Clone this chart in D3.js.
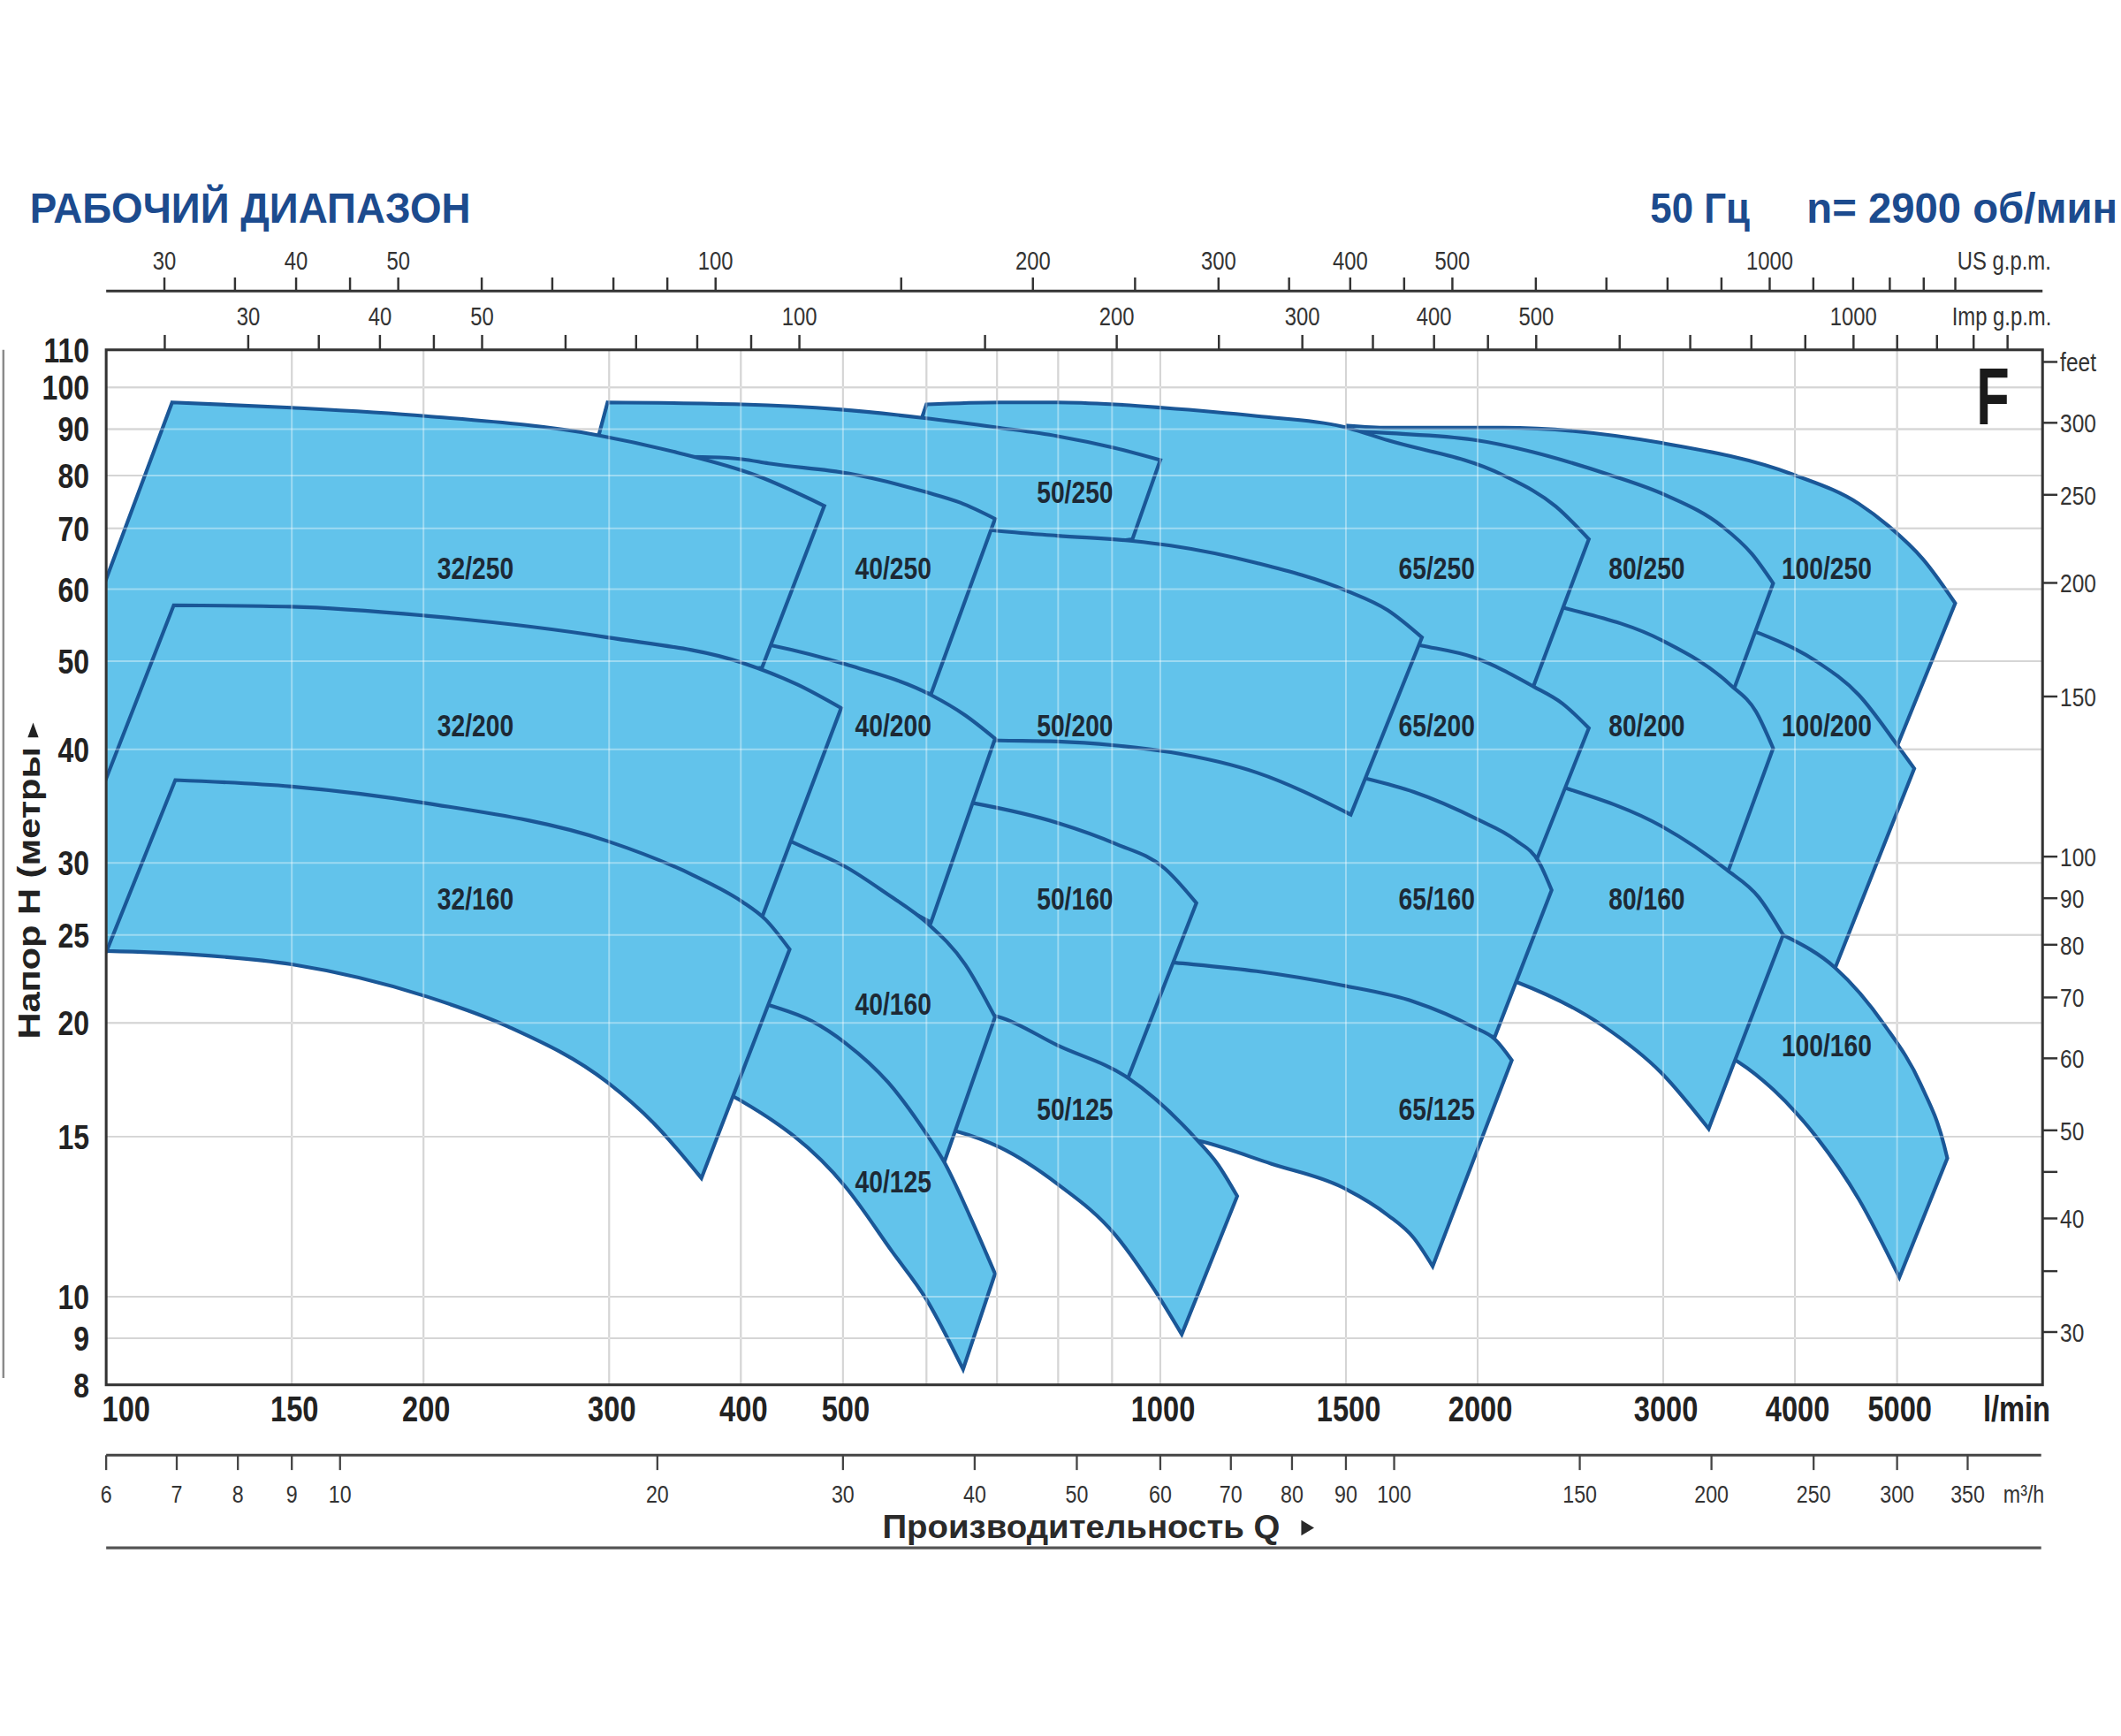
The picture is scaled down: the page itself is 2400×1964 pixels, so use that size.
<!DOCTYPE html>
<html><head><meta charset="utf-8">
<script src="https://cdn.jsdelivr.net/npm/d3@7/dist/d3.min.js"></script>
<style>html,body{margin:0;padding:0;background:#fff}</style>
</head><body>
<svg id="chart" width="2400" height="1964" viewBox="0 0 1568 1283"></svg>
<script>
// ---------------- DATA (flow Q in l/min, head H in m) ----------------
const headLabels = [110,100,90,80,70,60,50,40,30,25,20,15,10,9,8];
const headGrid   = [100,90,80,70,60,50,40,30,25,20,15,10,9];
const flowLabels = [100,150,200,300,400,500,1000,1500,2000,3000,4000,5000];
const flowGrid   = [150,200,300,400,500,600,700,800,900,1000,1500,2000,3000,4000,5000];
const usTicks  = [30,35,40,45,50,60,70,80,90,100,150,200,250,300,350,400,450,500,600,700,800,900,1000,1100,1200,1300,1400,1500];
const impTicks = [25,30,35,40,45,50,60,70,80,90,100,150,200,250,300,350,400,450,500,600,700,800,900,1000,1100,1200,1300,1400];
const gpmLabels = [30,40,50,100,200,300,400,500,1000];
const m3hTicks = [6,7,8,9,10,20,30,40,50,60,70,80,90,100,150,200,250,300,350];
const feetTicks = [350,300,250,200,150,100,90,80,70,60,50,45,40,35,30];
const feetLabels = ["feet","300","250","200","150","100","90","80","70","60","50","","40","","30"];

// pump models in drawing order
const models = ["100/250","100/200","100/160","80/250","80/200","80/160",
  "65/250","65/200","65/160","65/125","50/250","50/200","50/160","50/125",
  "40/250","40/200","40/160","40/125","32/250","32/200","32/160"];

// upper curve (max impeller), left -> right : [Q, H]
const upper = [
 [[1505,90.8],[1643,90.3],[2114,90.3],[2989,86.9],[3998,80.1],[4599,74.5],[4908,70.4],[5293,64.7],[5677,57.9]],
 [[3188,56.5],[3709,53.6],[4189,50.0],[4599,45.9],[5004,40.4],[5191,38.1]],
 [[3303,26.6],[3588,25.9],[3921,24.9],[4368,23.0],[4864,19.9],[5268,17.1],[5539,14.7],[5580,14.2]],
 [[1514,89.6],[1643,89.1],[1981,87.6],[2673,80.1],[3018,76.1],[3409,70.4],[3641,65.6],[3814,60.9]],
 [[2108,59.2],[2434,57.1],[2992,52.7],[3473,47.1],[3674,44.0],[3814,40.1]],
 [[2046,38.2],[2434,36.2],[2992,32.9],[3443,29.5],[3696,27.5],[3898,25.0]],
 [[600,95.8],[704,96.3],[799,96.3],[905,95.8],[1004,95.0],[1235,93.0],[1487,90.6],[1643,87.5],[2114,80.1],[2372,74.0],[2550,68.1]],
 [[1478,54.0],[1771,52.0],[1981,50.5],[2259,46.9],[2408,44.9],[2550,42.2]],
 [[628,42.9],[749,42.1],[978,40.7],[1314,38.6],[1573,37.1],[1740,35.9],[1999,33.5],[2171,31.8],[2289,30.0],[2351,28.0]],
 [[843,23.8],[1033,23.3],[1234,22.8],[1488,22.0],[1742,21.1],[1981,19.8],[2076,19.2],[2155,18.2]],
 [[299,96.3],[401,95.8],[495,94.6],[595,92.6],[704,90.3],[799,88.4],[905,85.8],[1000,83.2]],
 [[592,71.5],[697,69.6],[799,68.7],[941,67.8],[1023,67.0],[1235,64.1],[1500,59.8],[1643,56.9],[1771,53.1]],
 [[574,35.8],[665,34.9],[799,33.2],[906,31.5],[1009,29.6],[1082,27.1]],
 [[628,20.7],[704,20.3],[799,18.9],[932,17.4],[1082,14.9],[1133,14.0],[1183,12.9]],
 [[318,84.0],[374,83.8],[401,83.4],[425,82.5],[507,80.4],[600,76.7],[646,74.7],[697,71.7]],
 [[348,53.8],[429,52.0],[503,49.6],[606,45.9],[653,43.6],[697,41.1]],
 [[415,32.9],[462,31.1],[503,29.7],[549,27.8],[600,25.8],[653,23.2],[697,20.3]],
 [[391,21.5],[427,20.9],[467,20.1],[503,19.0],[552,17.2],[600,15.1],[623,14.1],[659,12.3],[697,10.6]],
 [[115.5,96.3],[150,95.0],[201,93.0],[293,88.6],[348,84.8],[414,80.0],[480,74.1]],
 [[115.9,57.6],[150,57.4],[201,56.1],[299,53.1],[401,49.8],[453,47.1],[498,44.4]],
 [[116.3,37.0],[150,36.4],[201,34.9],[299,31.7],[360,29.1],[401,27.2],[422,26.0],[445,24.1]]
];
// lower curve (min impeller), right -> left : [Q, H]
const lower = [
 [[5004,40.4],[4159,47.1],[3588,51.7],[2750,55.9],[2046,60.9],[1353,65.2]],
 [[4368,23.0],[3696,25.0],[3284,27.3],[3024,28.2]],
 [[5025,10.5],[4599,12.8],[4189,15.0],[3814,16.9],[3540,18.1],[3235,19.0]],
 [[3504,46.7],[3188,48.4],[2750,50.9],[2372,53.1],[1929,56.5],[1394,63.0]],
 [[3443,29.0],[3096,30.9],[2750,32.7],[2372,34.3],[1929,35.8]],
 [[3313,15.3],[2992,17.6],[2623,19.9],[2175,22.2],[1929,23.2]],
 [[2259,46.9],[1929,48.6],[1523,51.3],[1133,55.9],[749,63.0],[628,66.3],[541,67.4]],
 [[2269,30.0],[1987,32.0],[1714,33.8],[1478,35.2],[1353,36.4]],
 [[2076,19.3],[1765,20.0],[1478,20.7],[1133,21.2],[843,21.8],[646,21.8]],
 [[1813,10.8],[1740,11.6],[1643,12.3],[1487,13.2],[1275,14.0],[1098,14.8],[978,15.2],[843,15.8]],
 [[941,68.1],[819,67.0],[706,67.4],[628,68.6],[495,72.7],[369,75.2],[283,76.0]],
 [[1516,33.9],[1235,37.7],[1023,39.7],[905,40.4],[799,40.8],[704,40.9],[592,41.1]],
 [[932,17.4],[795,18.4],[666,18.7],[592,18.7]],
 [[1048,9.09],[986,10.2],[906,11.7],[799,13.3],[704,14.6],[641,15.2],[609,15.4]],
 [[606,46.0],[526,47.9],[467,49.6],[415,48.7],[328,53.1]],
 [[606,25.8],[526,28.1],[467,29.9],[415,31.8]],
 [[623,14.0],[558,15.5],[467,17.8],[397,19.4]],
 [[650,8.32],[600,9.93],[557,11.2],[503,13.2],[401,16.4],[369,17.2]],
 [[419,49.2],[348,48.4],[259,50.4],[166,52.2],[116.4,53.1]],
 [[419,26.15],[299,29.2],[201,31.2],[150,32.4],[119.9,31.0]],
 [[367,13.5],[331,15.5],[299,17.2],[241,19.8],[201,21.4],[150,23.2],[119.9,23.8],[100.1,24.0]]
];
// left boundary continuation beyond the 100 l/min edge (two 32 models)
const leftTail = {
 "32/250": [[101.9,36.9],[82.6,34.0]],
 "32/200": [[105,24.3],[100.1,23.97],[89.2,23.97],[84.6,22.6]]
};
// label positions [Q, H]
const labelPos = [
 [4287,63.3],[4287,42.5],[4287,18.9],[2894,63.3],[2894,42.5],[2894,27.4],
 [1829,63.3],[1829,42.5],[1829,27.4],[1829,16.1],[830,76.7],[830,42.5],[830,27.4],[830,16.1],
 [558,63.3],[558,42.5],[558,21.0],[558,13.4],[224,63.3],[224,42.5],[224,27.4]
];

// ---------------- CHART ----------------
const FONT = "'Liberation Sans', Arial, sans-serif";
const SX = 0.82; // condensed look
const svg = d3.select('#chart');
const x = d3.scaleLog().domain([100, 6870]).range([78.5, 1510]);
const y = d3.scaleLog().domain([8, 110]).range([1023.5, 258.5]);
const [X0, X1] = x.range(), [Y0, Y1] = [y.range()[1], y.range()[0]];
const US = 3.78541, IMP = 4.54609, M3H = 1000/60, FT = 0.3048;
const AX = '#333';

function ntext(px, py, s, size, o = {}) {
  return svg.append('text')
    .attr('transform', `translate(${px},${py}) scale(${o.sx || SX},1)`)
    .attr('text-anchor', o.anchor || 'start')
    .attr('dy', o.dy || null)
    .attr('font-family', FONT).attr('font-weight', o.bold ? 'bold' : 'normal')
    .attr('font-size', size).attr('fill', o.fill || AX).text(s);
}

svg.append('rect').attr('width',1568).attr('height',1283).attr('fill','#fff');
svg.append('defs').append('clipPath').attr('id','plotclip')
  .append('rect').attr('x',X0).attr('y',Y0).attr('width',X1-X0).attr('height',Y1-Y0);

// grid (under)
const gridG = svg.append('g').attr('stroke','#bcbcbc').attr('stroke-width',1.3);
headGrid.forEach(h=>gridG.append('line').attr('x1',X0).attr('x2',X1).attr('y1',y(h)).attr('y2',y(h)));
flowGrid.forEach(q=>gridG.append('line').attr('y1',Y0).attr('y2',Y1).attr('x1',x(q)).attr('x2',x(q)));

// tiles
const curve = d3.line().x(d=>x(d[0])).y(d=>y(d[1])).curve(d3.curveMonotoneX);
const straight = d3.line().x(d=>x(d[0])).y(d=>y(d[1]));
const tiles = models.map((m,i)=>({name:m, top:upper[i], bottom:lower[i], tail:leftTail[m], label:labelPos[i]}));
const tileG = svg.append('g').attr('clip-path','url(#plotclip)');
tiles.forEach(t=>{
  let p = curve(t.top) + curve(t.bottom).replace(/^M/,'L');
  if (t.tail) p += straight(t.tail).replace(/^M/,'L');
  p += 'Z';
  tileG.append('path').attr('d',p).attr('fill','#62c3eb').attr('stroke','#1a5797')
    .attr('stroke-width',2.7).attr('stroke-linejoin','miter').attr('stroke-miterlimit',10);
});

// grid (over, light)
const gridO = svg.append('g').attr('stroke','#ffffff').attr('stroke-opacity',0.38).attr('stroke-width',1.3);
headGrid.forEach(h=>gridO.append('line').attr('x1',X0).attr('x2',X1).attr('y1',y(h)).attr('y2',y(h)));
flowGrid.forEach(q=>gridO.append('line').attr('y1',Y0).attr('y2',Y1).attr('x1',x(q)).attr('x2',x(q)));

// model labels
tiles.forEach(t=>{
  ntext(x(t.label[0]), y(t.label[1]), t.name, 22.5, {anchor:'middle', dy:'0.36em', bold:true, fill:'#1d2935'});
});

// frame
svg.append('rect').attr('x',X0).attr('y',Y0).attr('width',X1-X0).attr('height',Y1-Y0)
  .attr('fill','none').attr('stroke','#333').attr('stroke-width',2);

// left head labels
headLabels.forEach(h=>ntext(66, y(h), h, 25.5, {anchor:'end', dy:'0.36em', bold:true, fill:'#222'}));
// thin line far left
svg.append('line').attr('x1',2.5).attr('x2',2.5).attr('y1',Y0).attr('y2',Y1-5).attr('stroke','#8a8a8a').attr('stroke-width',1.6);

// axis title left
svg.append('text').attr('transform','translate(29.5,768) rotate(-90)')
  .attr('font-family',FONT).attr('font-weight','bold').attr('font-size',23).attr('fill','#222')
  .attr('textLength',216).attr('lengthAdjust','spacingAndGlyphs').text('Напор H (метры');
svg.append('path').attr('d','M20.5,545 L28.5,545 L24.5,534 Z').attr('fill','#222');

// right feet axis
feetTicks.forEach((f,i)=>{
  const yy = y(f*FT);
  svg.append('line').attr('x1',X1).attr('x2',X1+11).attr('y1',yy).attr('y2',yy).attr('stroke','#333').attr('stroke-width',1.6);
  if (feetLabels[i]) ntext(X1+13, yy, feetLabels[i], 19.5, {dy:'0.36em'});
});

// US gpm axis (top)
const usY = 215;
svg.append('line').attr('x1',X0).attr('x2',X1).attr('y1',usY).attr('y2',usY).attr('stroke','#333').attr('stroke-width',2);
usTicks.forEach(g=>{
  const xx = x(g*US);
  svg.append('line').attr('x1',xx).attr('x2',xx).attr('y1',usY).attr('y2',usY-10).attr('stroke','#333').attr('stroke-width',1.6);
  if (gpmLabels.includes(g)) ntext(xx, usY-16, g, 19, {anchor:'middle'});
});
ntext(1447, usY-16, 'US g.p.m.', 19);
// Imp gpm axis (plot top)
impTicks.forEach(g=>{
  const xx = x(g*IMP);
  svg.append('line').attr('x1',xx).attr('x2',xx).attr('y1',Y0).attr('y2',Y0-11).attr('stroke','#333').attr('stroke-width',1.6);
  if (gpmLabels.includes(g)) ntext(xx, Y0-18, g, 19, {anchor:'middle'});
});
ntext(1443, Y0-18, 'Imp g.p.m.', 19);

// l/min labels
flowLabels.forEach((q,i)=>{
  ntext(i===0 ? X0-3 : x(q)+2, 1050.5, q, 26, {anchor: i===0 ? 'start' : 'middle', bold:true, fill:'#222'});
});
ntext(1466, 1050.5, 'l/min', 26, {bold:true, fill:'#222'});

// m3/h axis
const mY = 1075.5;
svg.append('line').attr('x1',X0).attr('x2',X1-1).attr('y1',mY).attr('y2',mY).attr('stroke','#444').attr('stroke-width',2);
m3hTicks.forEach(m=>{
  const xx = x(m*M3H);
  svg.append('line').attr('x1',xx).attr('x2',xx).attr('y1',mY).attr('y2',mY+11).attr('stroke','#444').attr('stroke-width',1.5);
  ntext(xx, 1110.5, m, 18.5, {anchor:'middle'});
});
ntext(1481, 1110.5, 'm³/h', 18.5);

// x axis title
svg.append('text').attr('x',652.3).attr('y',1137).attr('font-family',FONT).attr('font-weight','bold')
  .attr('font-size',24).attr('fill','#2a2a2a').attr('textLength',294).attr('lengthAdjust','spacingAndGlyphs')
  .text('Производительность Q');
svg.append('path').attr('d','M962,1123.5 L962,1135 L971.5,1129.2 Z').attr('fill','#2a2a2a');
svg.append('line').attr('x1',X0).attr('x2',X1-1).attr('y1',1144).attr('y2',1144).attr('stroke','#555').attr('stroke-width',2);

// titles
const TC = '#1c4b8e';
svg.append('text').attr('x',22).attr('y',164.4).attr('font-family',FONT).attr('font-weight','bold')
  .attr('font-size',31).attr('fill',TC).attr('textLength',326).attr('lengthAdjust','spacingAndGlyphs').text('РАБОЧИЙ ДИАПАЗОН');
svg.append('text').attr('x',1220).attr('y',164.4).attr('font-family',FONT).attr('font-weight','bold')
  .attr('font-size',31).attr('fill',TC).attr('textLength',73.6).attr('lengthAdjust','spacingAndGlyphs').text('50 Гц');
svg.append('text').attr('x',1335.6).attr('y',164.4).attr('font-family',FONT).attr('font-weight','bold')
  .attr('font-size',31).attr('fill',TC).attr('textLength',229.8).attr('lengthAdjust','spacingAndGlyphs').text('n= 2900 об/мин');

// series letter
svg.append('text').attr('x',1461).attr('y',313.6).attr('font-family',FONT).attr('font-weight','bold')
  .attr('font-size',59).attr('fill','#1a1a1a').attr('textLength',24.5).attr('lengthAdjust','spacingAndGlyphs').text('F');
</script>
</body></html>
